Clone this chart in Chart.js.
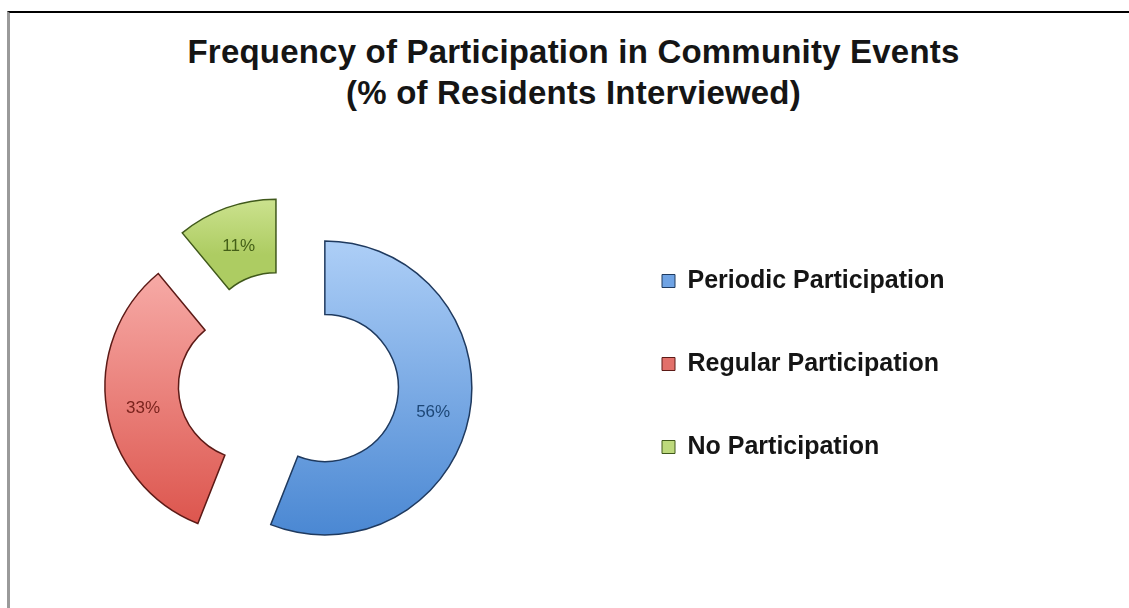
<!DOCTYPE html>
<html>
<head>
<meta charset="utf-8">
<title>Frequency of Participation in Community Events</title>
<script src="https://cdn.jsdelivr.net/npm/chart.js@4.4.1/dist/chart.umd.min.js"></script>
<style>
    html, body { margin: 0; padding: 0; background: #fff; overflow: hidden; }
    body { width: 1129px; height: 608px; position: relative; }
    .frame {
        position: absolute; left: 7px; top: 11px; right: -5px; bottom: -5px;
        border-top: 2px solid #000; border-left: 3px solid #9a9a9a;
    }
    .chart-title {
        position: absolute; left: 0; width: 1147px; top: 31px;
        text-align: center; font: bold 33px "Liberation Sans", Arial, sans-serif;
        line-height: 41px; letter-spacing: 0.2px; color: #151515;
    }
    #participationChart { position: absolute; left: -30px; top: 0; }
</style>
</head>
<body>
<div class="frame"></div>
<div class="chart-title">Frequency of Participation in Community Events<br>(% of Residents Interviewed)</div>
<canvas id="participationChart" width="979" height="608"></canvas>

<script>
// ---- data ----
const categories = ['Periodic Participation', 'Regular Participation', 'No Participation'];
const shares = [56, 33, 11];

// ---- colours ----
const fillTop = ['#abcdf6', '#f6a8a4', '#dff0aa'];
const fillBottom = ['#4886d2', '#dc544c', '#adcc62'];
const swatchColors = ['#6fa3e4', '#e2706a', '#bdd97c'];
const edgeColors = ['#1f3a5f', '#5c1a16', '#40591b'];
const labelColors = ['#1d4777', '#7a231d', '#445f17'];

// ring geometry
const outerRadius = 147;
const cutoutRatio = 0.5;
const explode = 37;
const labelDrop = 4;

// vertical gradient fitted to each (pulled-out) segment
function segmentFill(context) {
    const chart = context.chart;
    const area = chart.chartArea;
    const i = context.dataIndex;
    if (!area || i === undefined) return swatchColors[i || 0];
    const cx = (area.left + area.right) / 2;
    const cy = (area.top + area.bottom) / 2;
    const total = shares.reduce((a, b) => a + b, 0);
    const before = shares.slice(0, i).reduce((a, b) => a + b, 0);
    const a0 = -Math.PI / 2 + 2 * Math.PI * before / total;
    const a1 = a0 + 2 * Math.PI * shares[i] / total;
    const oy = cy + Math.sin((a0 + a1) / 2) * explode;
    let top = Infinity, bottom = -Infinity;
    for (let k = 0; k <= 48; k++) {
        const s = Math.sin(a0 + (a1 - a0) * k / 48);
        [outerRadius, outerRadius * cutoutRatio].forEach(r => {
            top = Math.min(top, oy + s * r);
            bottom = Math.max(bottom, oy + s * r);
        });
    }
    const g = chart.ctx.createLinearGradient(0, top, 0, bottom);
    g.addColorStop(0, fillTop[i]);
    g.addColorStop(1, fillBottom[i]);
    return g;
}

// draws every arc pushed out along its own mid angle
const explodePlugin = {
    id: 'explodeSlices',
    beforeDatasetDraw(chart, args) {
        const ctx = chart.ctx;
        args.meta.data.forEach(arc => {
            const mid = (arc.startAngle + arc.endAngle) / 2;
            ctx.save();
            ctx.translate(Math.cos(mid) * explode, Math.sin(mid) * explode);
            arc.draw(ctx, chart.chartArea);
            ctx.restore();
        });
        return false;
    }
};

// percentage text in the middle of each band
const sliceLabels = {
    id: 'sliceLabels',
    afterDatasetsDraw(chart) {
        const ctx = chart.ctx;
        const meta = chart.getDatasetMeta(0);
        ctx.save();
        ctx.font = '17px "Liberation Sans", Arial, sans-serif';
        ctx.textAlign = 'center';
        ctx.textBaseline = 'middle';
        meta.data.forEach((arc, i) => {
            const mid = (arc.startAngle + arc.endAngle) / 2;
            const r = explode + (arc.innerRadius + arc.outerRadius) / 2;
            ctx.fillStyle = labelColors[i];
            ctx.fillText(shares[i] + '%', arc.x + Math.cos(mid) * r, arc.y + Math.sin(mid) * r + labelDrop);
        });
        ctx.restore();
    }
};

new Chart(document.getElementById('participationChart'), {
    type: 'doughnut',
    data: {
        labels: categories,
        datasets: [{
            data: shares,
            backgroundColor: segmentFill,
            borderColor: edgeColors,
            borderWidth: 1.5,
            borderJoinStyle: 'miter'
        }]
    },
    options: {
        responsive: false,
        animation: false,
        radius: outerRadius,
        cutout: (cutoutRatio * 100) + '%',
        layout: { padding: { left: 3, top: 210.5, right: 0, bottom: 56.5 } },
        events: [],
        plugins: {
            tooltip: { enabled: false },
            legend: {
                position: 'right',
                align: 'start',
                // fixed box width keeps the ring centred where it is
                maxWidth: 345,
                labels: {
                    color: '#151515',
                    font: { family: '"Liberation Sans", Arial, sans-serif', size: 25, weight: 'bold' },
                    boxWidth: 13,
                    boxHeight: 13,
                    padding: 58,
                    generateLabels(chart) {
                        const items = Chart.overrides.doughnut.plugins.legend.labels.generateLabels(chart);
                        items.forEach((item, i) => {
                            item.fillStyle = swatchColors[i];
                            item.strokeStyle = edgeColors[i];
                            item.lineWidth = 1;
                        });
                        return items;
                    }
                }
            }
        }
    },
    plugins: [explodePlugin, sliceLabels]
});
</script>
</body>
</html>
